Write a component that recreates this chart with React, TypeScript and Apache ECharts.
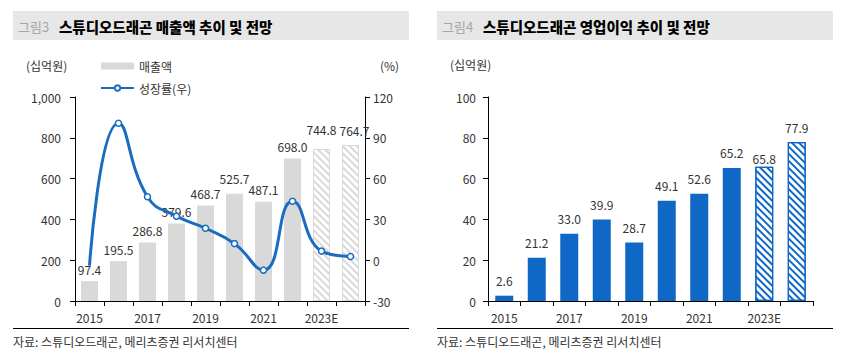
import React, { useEffect, useRef } from "react";
import * as echarts from "echarts";

const categories = ["2015", "2016", "2017", "2018", "2019", "2020", "2021", "2022", "2023E", "2024E"];
const revenue = [97.4, 195.5, 286.8, 379.6, 468.7, 525.7, 487.1, 698.0, 744.8, 764.7];
const growth = [-4, 100.7, 46.7, 32.4, 23.5, 12.2, -7.3, 43.3, 6.7, 2.7];
const profit = [2.6, 21.2, 33.0, 39.9, 28.7, 49.1, 52.6, 65.2, 65.8, 77.9];
const estimateStart = 8;

const FONT = "'Noto Sans CJK KR', 'Noto Sans', sans-serif";
const GRAY = "#d9d9d9";
const BLUE = "#0f68c6";
const LINE_BLUE = "#1a6cc0";
const TXT = "#333333";

const hatch = (c: string) => ({
  symbol: "rect",
  symbolSize: 1,
  dashArrayX: [1, 0],
  dashArrayY: [2, 3],
  rotation: Math.PI / 4,
  color: c,
  backgroundColor: "#ffffff",
});

export default function App() {
  const ref = useRef<HTMLDivElement>(null);
  useEffect(() => {
    if (!ref.current) return;
    const chart = echarts.init(ref.current, null, { renderer: "svg" });

    const leftLabelDist: Record<number, number> = { 5: 9, 8: 14, 9: 9 };
    const revData = revenue.map((v, i) => {
      const item: any = { value: v };
      if (i >= estimateStart) {
        item.itemStyle = { color: "#ffffff", borderColor: GRAY, borderWidth: 1, decal: hatch(GRAY) };
      }
      if (leftLabelDist[i] !== undefined) {
        item.label = { distance: leftLabelDist[i], offset: i === 9 ? [4, 0] : [0, 0] };
      }
      return item;
    });
    const profitData = profit.map((v, i) => {
      const item: any = { value: v };
      if (i >= estimateStart) {
        item.itemStyle = { color: "#ffffff", borderColor: BLUE, borderWidth: 1.2, decal: hatch(BLUE) };
      }
      if (i === 8) item.label = { distance: 2 };
      return item;
    });
    const growthData = growth.map((v, i) => (i === 0 ? { value: v, symbol: "none" } : v));

    const axisLine = { show: true, lineStyle: { color: "#000", width: 1 } };
    const axisTick = { show: true, length: 5, lineStyle: { color: "#000" } };
    const axisLabel = { color: TXT, fontSize: 12, fontFamily: FONT };

    const xBase = (gridIndex: number) => ({
      type: "category",
      gridIndex,
      data: categories,
      axisLine,
      axisTick: { ...axisTick, interval: 0, alignWithLabel: false },
      axisLabel: { ...axisLabel, interval: 1, margin: 10 },
      splitLine: { show: false },
    });

    const titleBar = (x: number, num: string, title: string) => [
      { type: "rect", shape: { x, y: 11, width: 396, height: 29 }, style: { fill: "#e7e7e7" }, silent: true },
      { type: "text", x: x + 5, y: 26, style: { text: num, fill: "#a6a6a6", font: `13px ${FONT}`, verticalAlign: "middle" } },
      { type: "text", x: x + 46, y: 26, style: { text: title, fill: "#000", font: `900 14.5px ${FONT}`, verticalAlign: "middle" } },
      { type: "line", shape: { x1: x, y1: 328.5, x2: x + 396, y2: 328.5 }, style: { stroke: "#000", lineWidth: 1 } },
      { type: "text", x, y: 341, style: { text: "자료: 스튜디오드래곤, 메리츠증권 리서치센터", fill: TXT, font: `12px ${FONT}`, verticalAlign: "middle" } },
    ];

    chart.setOption({
      animation: false,
      backgroundColor: "#ffffff",
      grid: [
        { left: 75, top: 97, width: 290, height: 204 },
        { left: 488, top: 97, width: 325, height: 204 },
      ],
      legend: {
        orient: "vertical",
        left: 95,
        top: 55,
        itemWidth: 33,
        itemHeight: 7,
        itemGap: 10,
        textStyle: { color: TXT, fontSize: 12, fontFamily: FONT },
        data: [{ name: "매출액", icon: "rect" }, { name: "성장률(우)" }],
      },
      xAxis: [xBase(0), xBase(1)],
      yAxis: [
        {
          type: "value", gridIndex: 0, min: 0, max: 1000, interval: 200,
          axisLine, axisTick, splitLine: { show: false },
          axisLabel: { ...axisLabel, margin: 14, formatter: (v: number) => v.toLocaleString("en-US") },
        },
        {
          type: "value", gridIndex: 0, min: -30, max: 120, interval: 30, position: "right",
          axisLine, axisTick, splitLine: { show: false },
          axisLabel: { ...axisLabel, margin: 8 },
        },
        {
          type: "value", gridIndex: 1, min: 0, max: 100, interval: 20,
          axisLine, axisTick, splitLine: { show: false },
          axisLabel: { ...axisLabel, margin: 12 },
        },
      ],
      series: [
        {
          name: "매출액", type: "bar", xAxisIndex: 0, yAxisIndex: 0, barWidth: 17,
          itemStyle: { color: GRAY },
          label: { show: true, position: "top", distance: 6, color: TXT, fontSize: 12, fontFamily: FONT, formatter: (p: any) => p.value.toFixed(1) },
          data: revData, z: 2,
        },
        {
          name: "성장률(우)", type: "line", xAxisIndex: 0, yAxisIndex: 1, smooth: 0.5,
          symbol: "circle", symbolSize: 6, showSymbol: true,
          lineStyle: { color: LINE_BLUE, width: 3 },
          itemStyle: { color: "#ffffff", borderColor: LINE_BLUE, borderWidth: 1.5 },
          data: growthData, z: 5,
        },
        {
          name: "영업이익", type: "bar", xAxisIndex: 1, yAxisIndex: 2, barWidth: 18,
          itemStyle: { color: BLUE },
          label: { show: true, position: "top", distance: 9, color: TXT, fontSize: 12, fontFamily: FONT, formatter: (p: any) => p.value.toFixed(1) },
          data: profitData,
        },
      ],
      graphic: [
        ...titleBar(13, "그림3", "스튜디오드래곤 매출액 추이 및 전망"),
        ...titleBar(437, "그림4", "스튜디오드래곤 영업이익 추이 및 전망"),
        { type: "text", x: 26, y: 65, style: { text: "(십억원)", fill: TXT, font: `12px ${FONT}`, verticalAlign: "middle" } },
        { type: "text", x: 380, y: 65, style: { text: "(%)", fill: TXT, font: `12px ${FONT}`, verticalAlign: "middle" } },
        { type: "text", x: 450, y: 64, style: { text: "(십억원)", fill: TXT, font: `12px ${FONT}`, verticalAlign: "middle" } },
      ],
    });
    return () => chart.dispose();
  }, []);
  return <div ref={ref} style={{ position: "fixed", left: 0, top: 0, width: 849, height: 355 }} />;
}
